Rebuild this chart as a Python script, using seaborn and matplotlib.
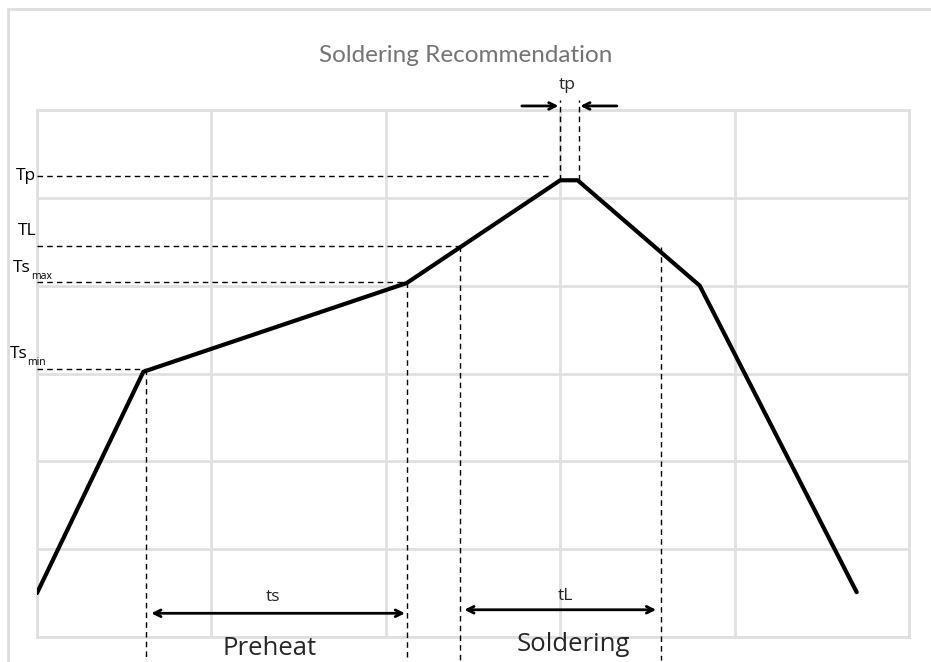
import matplotlib
matplotlib.use("Agg")
import matplotlib.pyplot as plt
import matplotlib.patches as mpatches
import seaborn as sns
import pandas as pd

# ---- data (arbitrary units: 1 x-unit = one grid column, 1 y-unit = one grid row)
profile_time = [0.0, 0.61, 2.12, 3.0, 3.1, 3.8, 4.7]
profile_temp = [0.5, 3.02, 4.03, 5.2, 5.2, 4.0, 0.51]

level_names = ["Tp", "TL", "Ts_max", "Ts_min"]
level_values = [5.25, 4.45, 4.04, 3.05]
level_ends = [2.95, 2.425, 2.124, 0.64]

vline_x = [0.625, 2.124, 2.425, 3.578]
vline_top = [3.05, 4.04, 4.45, 4.44]
tp_x = [3.0, 3.108]

title = "Soldering Recommendation"
phase_labels = ["Preheat", "Soldering"]

sns.set_theme(style="white")
plt.rcParams["font.family"] = ["Open Sans", "DejaVu Sans"]

fig = plt.figure(figsize=(9.31, 6.62), dpi=100)
ax = fig.add_axes([37 / 931, 25 / 662, 872 / 931, 527 / 662])

# outer container frame
fig.patches.append(mpatches.Rectangle((8 / 931, -0.1), 1.2, (653 / 662) + 0.1,
                                      transform=fig.transFigure, fill=False,
                                      edgecolor="#dddddd", linewidth=2, zorder=0))

df = pd.DataFrame({"time": profile_time, "temp": profile_temp})
sns.lineplot(data=df, x="time", y="temp", ax=ax, color="black", linewidth=3,
             sort=False, zorder=5)

ax.set_xlim(0, 5)
ax.set_ylim(0, 6)
ax.set_xticks(range(0, 6))
ax.set_yticks(range(0, 7))
ax.set_xticklabels([])
ax.set_yticklabels([])
ax.tick_params(length=0)
ax.grid(True, color="#e0e0e0", linewidth=2)
for s in ax.spines.values():
    s.set_color("#e0e0e0")
    s.set_linewidth(2)
ax.set_xlabel("")
ax.set_ylabel("")

dash = dict(color="black", linewidth=1, linestyle=(0, (4, 3)), clip_on=False, zorder=4)

# horizontal reference levels
for val, end in zip(level_values, level_ends):
    ax.plot([0, end], [val, val], **dash)

# vertical reference times
for xv, top in zip(vline_x, vline_top):
    ax.plot([xv, xv], [top, -0.26], **dash)
for xv in tp_x:
    ax.plot([xv, xv], [5.2, 6.11], **dash)

# level labels (left of the axes)
lab = dict(va="center", fontsize=12.5, color="black")
sub = dict(ha="left", va="center", fontsize=7.5, color="black")
ax.text(-0.005, 5.25, "Tp", ha="right", **lab)
ax.text(0.0, 4.62, "TL", ha="right", **lab)
ax.text(-0.038, 4.20, "Ts", ha="right", **lab)
ax.text(-0.036, 4.11, "max", **sub)
ax.text(-0.055, 3.22, "Ts", ha="right", **lab)
ax.text(-0.054, 3.125, "min", **sub)

arrow_kw = dict(arrowstyle="<->", color="black", lw=2, mutation_scale=12,
                shrinkA=0, shrinkB=0)
ax.annotate("", xy=(0.655, 0.27), xytext=(2.11, 0.27), arrowprops=arrow_kw,
            annotation_clip=False)
ax.annotate("", xy=(2.45, 0.31), xytext=(3.55, 0.31), arrowprops=arrow_kw,
            annotation_clip=False)
ax.text(1.355, 0.46, "ts", ha="center", va="center", fontsize=12.5)
ax.text(3.03, 0.47, "tL", ha="center", va="center", fontsize=12.5)

one_kw = dict(arrowstyle="->", color="black", lw=2, mutation_scale=12,
              shrinkA=0, shrinkB=0)
ax.annotate("", xy=(2.99, 6.046), xytext=(2.78, 6.046), arrowprops=one_kw,
            annotation_clip=False)
ax.annotate("", xy=(3.115, 6.046), xytext=(3.325, 6.046), arrowprops=one_kw,
            annotation_clip=False)
ax.text(3.04, 6.28, "tp", ha="center", va="center", fontsize=12.5)

ax.text(1.336, -0.13, phase_labels[0], ha="center", va="center", fontsize=18.5)
ax.text(3.073, -0.08, phase_labels[1], ha="center", va="center", fontsize=18.5)

fig.text(466 / 931, 1 - 56 / 662, title, ha="center", va="center",
         fontsize=17.5, color="#747474", fontweight="normal",
         family=["Lato", "Open Sans", "DejaVu Sans"])

fig.savefig("out.png", dpi=100)
